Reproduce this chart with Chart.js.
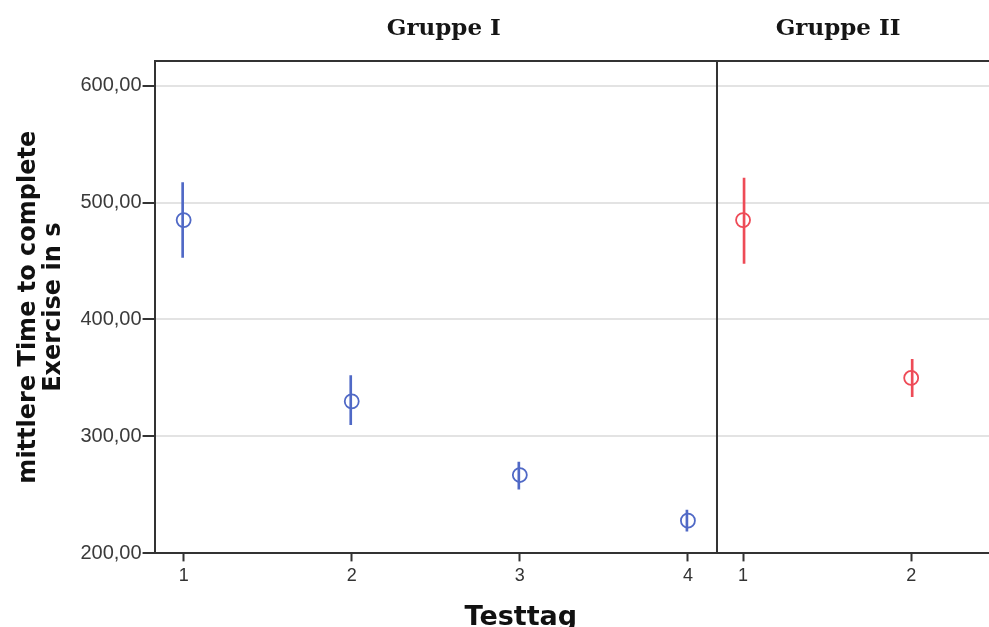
<!DOCTYPE html>
<html>
<head>
<meta charset="utf-8">
<script src="https://cdn.jsdelivr.net/npm/chart.js@4/dist/chart.umd.min.js"></script>
<style>
  html, body { margin: 0; padding: 0; background: #fff; overflow: hidden; }
  #wrap { width: 998px; height: 627px; position: relative; }
</style>
</head>
<body>
<div id="wrap"><canvas id="chart"></canvas></div>
<script>
// Gruppe I, Testtag 1-4
const g1Days = [1, 2, 3, 4]
const g1Mean = [485, 330, 267, 228]
const g1Low = [453, 310, 255, 219]
const g1High = [517, 352, 278, 237]

// Gruppe II, Testtag 1-2
const g2Days = [1, 2]
const g2Mean = [485, 350]
const g2Low = [448, 334]
const g2High = [521, 366]

const yTicks = [200, 300, 400, 500, 600]
const groupNames = ["Gruppe I", "Gruppe II"]

const blue = "#5069c6"
const red = "#ee4b57"
const dark = "#333333"

function pts(xs, ys) {
    return xs.map((x, i) => ({ x: x, y: ys[i] }))
}

function bars(xs, lo, hi) {
    return xs.map((x, i) => ({ x: x, y: [lo[i], hi[i]] }))
}

// frame, divider and titles
const framePlugin = {
    id: "frame",
    afterDraw(chart) {
        const ctx = chart.ctx
        const a = chart.chartArea
        const x1 = chart.scales.x1
        const x2 = chart.scales.x2
        ctx.save()
        ctx.strokeStyle = dark
        ctx.lineWidth = 2
        ctx.beginPath()
        ctx.moveTo(a.left, a.top)
        ctx.lineTo(a.right, a.top)
        ctx.moveTo(x1.right, a.top)
        ctx.lineTo(x1.right, a.bottom)
        ctx.stroke()

        ctx.fillStyle = "#151515"
        ctx.textAlign = "center"
        ctx.textBaseline = "alphabetic"
        ctx.font = "bold 23px 'DejaVu Serif'"
        ctx.fillText(groupNames[0], (x1.left + x1.right) / 2 + 8, 35)
        ctx.fillText(groupNames[1], (x2.left + x2.right) / 2 - 15, 35)

        ctx.fillStyle = "#111"
        ctx.font = "bold 27px 'DejaVu Sans'"
        ctx.fillText("Testtag", (a.left + x2.getPixelForValue(2)) / 2 - 12, 625)
        ctx.restore()
    }
}

const xCommon = {
    type: "linear",
    position: "bottom",
    stack: "panels",
    offset: false,
    grid: { offset: false, drawOnChartArea: false, tickLength: 8, tickColor: dark, tickWidth: 2 },
    border: { display: true, color: dark, width: 2 },
    ticks: { color: "#333", font: { family: "Liberation Sans", size: 18 }, padding: 4 }
}

new Chart(document.getElementById("chart"), {
    data: {
        datasets: [
            { type: "bar", xAxisID: "x1", data: bars(g1Days, g1Low, g1High), backgroundColor: blue, barThickness: 2, order: 2 },
            { type: "bar", xAxisID: "x2", data: bars(g2Days, g2Low, g2High), backgroundColor: red, barThickness: 2, order: 2 },
            { type: "scatter", xAxisID: "x1", data: pts(g1Days, g1Mean), borderColor: blue, backgroundColor: "rgba(0,0,0,0)", pointRadius: 7, borderWidth: 1.8, order: 1 },
            { type: "scatter", xAxisID: "x2", data: pts(g2Days, g2Mean), borderColor: red, backgroundColor: "rgba(0,0,0,0)", pointRadius: 7, borderWidth: 1.8, order: 1 }
        ]
    },
    options: {
        responsive: true,
        maintainAspectRatio: false,
        animation: false,
        events: [],
        layout: { padding: { top: 61, left: 16, right: 0, bottom: 36 } },
        plugins: { legend: { display: false }, tooltip: { enabled: false } },
        scales: {
            x1: Object.assign({}, xCommon, {
                min: 0.827, max: 4.173, stackWeight: 562,
                afterBuildTicks: s => { s.ticks = g1Days.map(v => ({ value: v })) }
            }),
            x2: Object.assign({}, xCommon, {
                min: 0.845, max: 2.464, stackWeight: 272,
                afterBuildTicks: s => { s.ticks = g2Days.map(v => ({ value: v })) }
            }),
            y: {
                type: "linear",
                min: 200, max: 621,
                afterBuildTicks: s => { s.ticks = yTicks.map(v => ({ value: v })) },
                grid: { color: "#e3e3e3", lineWidth: 2, tickLength: 12, tickColor: dark, tickWidth: 2 },
                border: { display: true, color: dark, width: 2 },
                ticks: {
                    color: "#3a3a3a",
                    padding: 1,
                    font: { family: "Liberation Sans", size: 20 },
                    callback: v => v.toFixed(2).replace(".", ",")
                },
                title: {
                    display: true,
                    text: ["mittlere Time to complete", "Exercise in s"],
                    color: "#111",
                    font: { family: "DejaVu Sans", size: 24, weight: "bold", lineHeight: 1.05 },
                    padding: { top: 0, bottom: 13 }
                }
            }
        }
    },
    plugins: [framePlugin]
})
</script>
</body>
</html>
